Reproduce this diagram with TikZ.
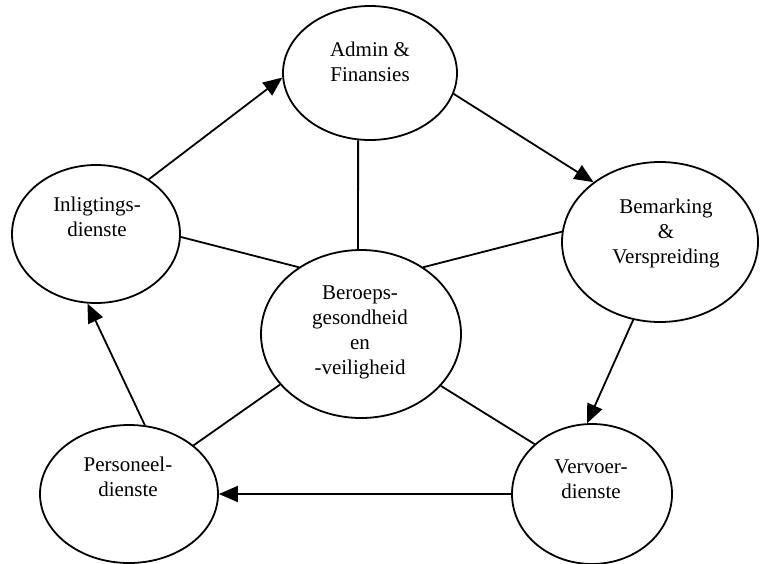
\documentclass[tikz,border=0pt]{standalone}
\usepackage{fontspec}
\setmainfont{Liberation Serif}
\usetikzlibrary{shapes.geometric,arrows.meta}

\begin{document}
\begin{tikzpicture}[x=1pt,y=-1pt,
  unit/.style={draw=black, line width=1.8pt, ellipse, inner sep=0pt},
  label text/.style={align=center, inner sep=0pt,
    font=\fontsize{21}{25}\selectfont},
  flow/.style={line width=1.8pt, -{Triangle[length=19pt,width=16pt]}},
  link/.style={line width=1.8pt}]

\useasboundingbox (0,0) rectangle (762,563);

% departments (ellipses)
\node[unit, minimum width=174pt, minimum height=134pt] (admin) at (370,73) {};
\node[unit, minimum width=168pt, minimum height=138pt] (inlig) at (96,234) {};
\node[unit, minimum width=196pt, minimum height=160pt] (bem)   at (660,242) {};
\node[unit, minimum width=200pt, minimum height=168pt] (hub)   at (361,334) {};
\node[unit, minimum width=178pt, minimum height=138pt] (pers)  at (129,494) {};
\node[unit, minimum width=160pt, minimum height=140pt] (verv)  at (592,494) {};

% their names
\node[label text] (admin-t) at (370,62)  {Admin \&\\Finansies};
\node[label text] (inlig-t) at (97,217)  {Inligtings-\\dienste};
\node[label text] (bem-t)   at (666,233) {Bemarking\\\&\\Verspreiding};
\node[label text] (hub-t)   at (360,332) {Beroeps-\\gesondheid\\en\\-veiligheid};
\node[label text] (pers-t)  at (128,477) {Personeel-\\dienste};
\node[label text] (verv-t)  at (591,479) {Vervoer-\\dienste};

% the cycle of arrows
\draw[flow] (inlig.46)  -- (admin.183);
\draw[flow] (admin.-14) -- (bem.138);
\draw[flow] (bem.251.6) -- (verv.94.8);
\draw[flow] (verv.180)  -- (pers.0);
\draw[flow] (pers.77)   -- (inlig.263.7);

% spokes to the central unit
\draw[link] (admin.260)  -- (hub.92);
\draw[link] (inlig.-2.7) -- (hub.133);
\draw[link] (bem.174.6)  -- (hub.47.6);
\draw[link] (hub.212.7)  -- (pers.37);
\draw[link] (hub.-33.9)  -- (verv.139.3);
\end{tikzpicture}
\end{document}
